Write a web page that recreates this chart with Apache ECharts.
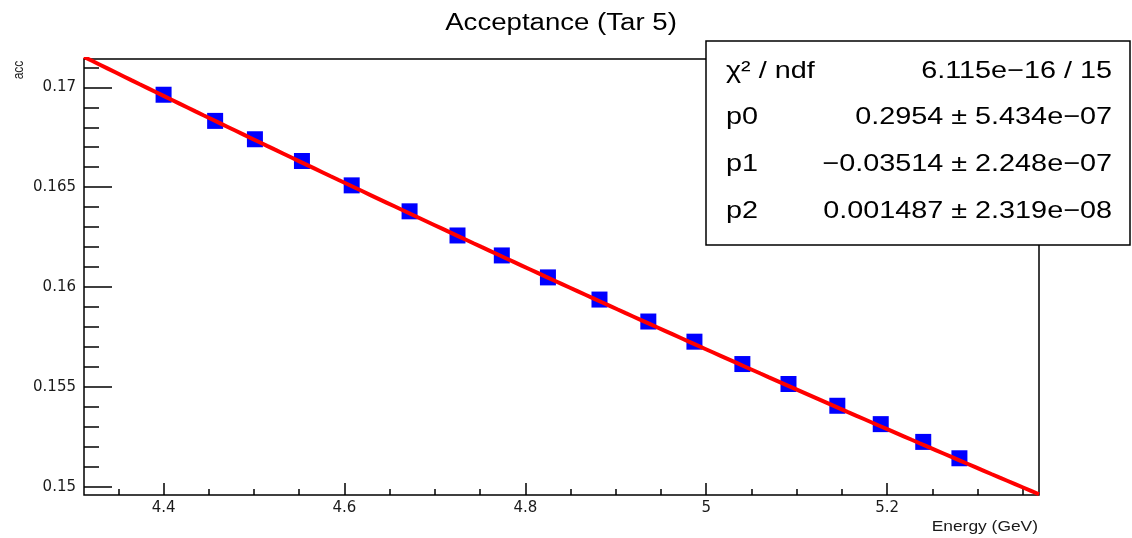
<!DOCTYPE html>
<html>
<head>
<meta charset="utf-8">
<script src="https://cdn.jsdelivr.net/npm/echarts@6/dist/echarts.min.js"></script>
<style>
  html, body { margin: 0; padding: 0; background: #fff; }
  #chart { width: 1132px; height: 538px; }
</style>
</head>
<body>
<div id="chart"></div>
<script>
// Measured acceptance vs beam energy (target 5)
const energy = [4.400, 4.457, 4.501, 4.553, 4.608, 4.672, 4.725, 4.774, 4.825,
                4.882, 4.936, 4.987, 5.040, 5.091, 5.145, 5.193, 5.240, 5.280];
const acc = [0.16963, 0.16832, 0.16740, 0.16631, 0.16509, 0.16379, 0.16258, 0.16158, 0.16048,
             0.15937, 0.15827, 0.15726, 0.15614, 0.15514, 0.15405, 0.15313, 0.15224, 0.15142];

// Quadratic fit result: p0 + p1*E + p2*E^2
const fitParams = [0.2954, -0.03514, 0.001487];
const statNames = ['χ² / ndf', 'p0', 'p1', 'p2'];
const statValues = ['6.115e−16 / 15', '0.2954 ± 5.434e−07', '−0.03514 ± 2.248e−07', '0.001487 ± 2.319e−08'];

// Axis ranges and ticks
const xRange = [4.312, 5.368];
const yRange = [0.14958, 0.17142];
const xMajorTicks = [4.4, 4.6, 4.8, 5.0, 5.2];
const xMinorTicks = [4.35, 4.45, 4.5, 4.55, 4.65, 4.7, 4.75, 4.85, 4.9, 4.95,
                     5.05, 5.1, 5.15, 5.25, 5.3, 5.35];
const yMajorTicks = [0.15, 0.155, 0.16, 0.165, 0.17];
const yMinorTicks = [0.151, 0.152, 0.153, 0.154, 0.156, 0.157, 0.158, 0.159,
                     0.161, 0.162, 0.163, 0.164, 0.166, 0.167, 0.168, 0.169, 0.171];

const titleText = 'Acceptance (Tar 5)';
const xTitle = 'Energy (GeV)';
const yTitle = 'acc';

// Fit curve evaluated across the full axis range
function fitValue(e) {
  return fitParams[0] + fitParams[1] * e + fitParams[2] * e * e;
}
const fitCurve = [];
const nSamples = 120;
for (let i = 0; i <= nSamples; i++) {
  const e = xRange[0] + (xRange[1] - xRange[0]) * i / nSamples;
  fitCurve.push([e, fitValue(e)]);
}

const TXT = 'Liberation Sans, Arial, Helvetica, sans-serif';
const LBL = 'DejaVu Sans, sans-serif';
const STRETCH = 1.2;

const chart = echarts.init(document.getElementById('chart'), null, { renderer: 'canvas' });

const statsGraphics = [];
statNames.forEach((name, i) => {
  const y = 71 + i * 46.8;
  statsGraphics.push({
    type: 'text', x: 726, y: y, scaleX: STRETCH, z: 102,
    style: { text: name, fontFamily: TXT, fontSize: 24, fill: '#000',
             textAlign: 'left', align: 'left', textVerticalAlign: 'middle', verticalAlign: 'middle' }
  });
  statsGraphics.push({
    type: 'text', x: 1112, y: y, scaleX: STRETCH, z: 102,
    style: { text: statValues[i], fontFamily: TXT, fontSize: 24, fill: '#000',
             textAlign: 'right', align: 'right', textVerticalAlign: 'middle', verticalAlign: 'middle' }
  });
});

const option = {
  backgroundColor: '#fff',
  animation: false,
  grid: {
    left: 84, right: 93, top: 59, bottom: 43,
    show: true, borderColor: '#000', borderWidth: 1.5, backgroundColor: 'transparent'
  },
  xAxis: [
    {
      type: 'value', min: xRange[0], max: xRange[1], position: 'bottom',
      axisLine: { show: false },
      splitLine: { show: false },
      axisTick: { show: true, inside: true, length: 12, customValues: xMajorTicks,
                  lineStyle: { color: '#000', width: 1.5 } },
      axisLabel: { show: true, customValues: xMajorTicks, margin: 6,
                   fontFamily: LBL, fontSize: 15, color: '#1a1a1a',
                   formatter: v => String(+v.toFixed(3)) }
    },
    {
      type: 'value', min: xRange[0], max: xRange[1], position: 'bottom',
      axisLine: { show: false },
      splitLine: { show: false },
      axisLabel: { show: false },
      axisTick: { show: true, inside: true, length: 6, customValues: xMinorTicks,
                  lineStyle: { color: '#000', width: 1.5 } }
    }
  ],
  yAxis: [
    {
      type: 'value', min: yRange[0], max: yRange[1], position: 'left',
      axisLine: { show: false },
      splitLine: { show: false },
      axisTick: { show: true, inside: true, length: 28, customValues: yMajorTicks,
                  lineStyle: { color: '#000', width: 1.5 } },
      axisLabel: { show: true, customValues: yMajorTicks, margin: 8,
                   fontFamily: LBL, fontSize: 15, color: '#1a1a1a',
                   formatter: v => String(+v.toFixed(4)) }
    },
    {
      type: 'value', min: yRange[0], max: yRange[1], position: 'left',
      axisLine: { show: false },
      splitLine: { show: false },
      axisLabel: { show: false },
      axisTick: { show: true, inside: true, length: 15, customValues: yMinorTicks,
                  lineStyle: { color: '#000', width: 1.5 } }
    }
  ],
  series: [
    {
      name: 'acc', type: 'scatter', xAxisIndex: 0, yAxisIndex: 0,
      symbol: 'rect', symbolSize: 16,
      itemStyle: { color: '#0000ff', opacity: 1 },
      data: energy.map((e, i) => [e, acc[i]]),
      z: 2
    },
    {
      name: 'fit', type: 'line', xAxisIndex: 0, yAxisIndex: 0,
      showSymbol: false, symbol: 'none', smooth: false, clip: true,
      lineStyle: { color: '#ff0000', width: 4 },
      data: fitCurve,
      z: 3
    }
  ],
  graphic: [
    {
      type: 'text', x: 561, y: 24, scaleX: STRETCH, z: 100,
      style: { text: titleText, fontFamily: TXT, fontSize: 23, fill: '#000',
               textAlign: 'center', align: 'center', textVerticalAlign: 'middle', verticalAlign: 'middle' }
    },
    {
      type: 'text', x: 1038, y: 527, scaleX: STRETCH, z: 100,
      style: { text: xTitle, fontFamily: TXT, fontSize: 14.5, fill: '#1a1a1a',
               textAlign: 'right', align: 'right', textVerticalAlign: 'middle', verticalAlign: 'middle' }
    },
    {
      type: 'text', x: 19, y: 70, rotation: Math.PI / 2, scaleY: STRETCH, z: 100,
      style: { text: yTitle, fontFamily: TXT, fontSize: 12, fill: '#1a1a1a',
               textAlign: 'center', align: 'center', textVerticalAlign: 'middle', verticalAlign: 'middle' }
    },
    {
      type: 'rect', z: 101,
      shape: { x: 706, y: 41, width: 424, height: 204 },
      style: { fill: '#fff', stroke: '#000', lineWidth: 1.5 }
    }
  ].concat(statsGraphics)
};

chart.setOption(option);
</script>
</body>
</html>
